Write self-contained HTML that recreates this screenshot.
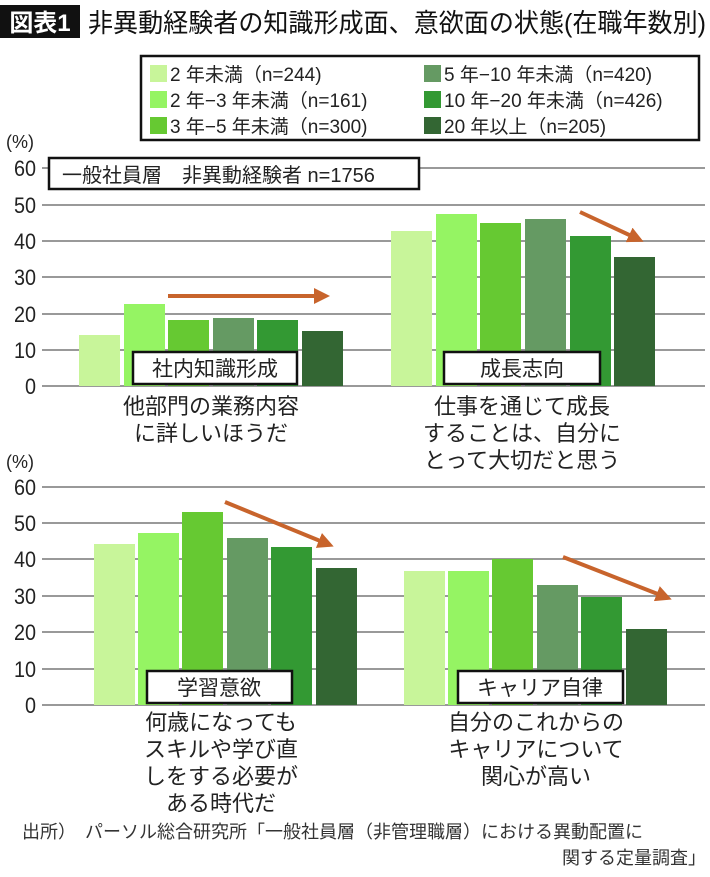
<!DOCTYPE html>
<html><head><meta charset="utf-8"><style>
body{margin:0;background:#fff;}
svg text{font-family:"Liberation Sans","Noto Sans CJK JP",sans-serif;}
</style></head><body>
<svg width="710" height="872" viewBox="0 0 710 872" xmlns="http://www.w3.org/2000/svg">
<defs><marker id="ah" markerWidth="4" markerHeight="4" refX="3" refY="2" orient="auto" markerUnits="strokeWidth"><path d="M0,0 L4,2 L0,4 z" fill="#c8642c"/></marker></defs>
<rect x="0" y="5" width="80" height="33" fill="#111"/>
<text x="40" y="31" font-size="24" fill="#fff" text-anchor="middle" font-weight="bold">図表1</text>
<text x="88" y="32" font-size="26" fill="#111" textLength="618" lengthAdjust="spacingAndGlyphs">非異動経験者の知識形成面、意欲面の状態(在職年数別)</text>
<rect x="141" y="56" width="558" height="84" fill="#fff" stroke="#111" stroke-width="2.5"/>
<g font-size="19" fill="#222">
<rect x="150" y="65" width="17" height="17" fill="#c8f59a"/><text x="170" y="81">2 年未満（n=244)</text>
<rect x="150" y="91" width="17" height="17" fill="#95f463"/><text x="170" y="107">2 年−3 年未満（n=161)</text>
<rect x="150" y="117" width="17" height="17" fill="#66c932"/><text x="170" y="133">3 年−5 年未満（n=300)</text>
<rect x="424" y="65" width="17" height="17" fill="#659a63"/><text x="444" y="81">5 年−10 年未満（n=420)</text>
<rect x="424" y="91" width="17" height="17" fill="#339933"/><text x="444" y="107">10 年−20 年未満（n=426)</text>
<rect x="424" y="117" width="17" height="17" fill="#336633"/><text x="444" y="133">20 年以上（n=205)</text>
</g>
<g stroke="#999" stroke-width="2">
<line x1="42" y1="168" x2="705" y2="168"/><line x1="42" y1="205" x2="705" y2="205"/><line x1="42" y1="241" x2="705" y2="241"/><line x1="42" y1="277" x2="705" y2="277"/><line x1="42" y1="314" x2="705" y2="314"/><line x1="42" y1="350" x2="705" y2="350"/><line x1="42" y1="386" x2="705" y2="386"/>
<line x1="42" y1="487" x2="705" y2="487"/><line x1="42" y1="523" x2="705" y2="523"/><line x1="42" y1="559" x2="705" y2="559"/><line x1="42" y1="596" x2="705" y2="596"/><line x1="42" y1="632" x2="705" y2="632"/><line x1="42" y1="669" x2="705" y2="669"/><line x1="42" y1="705" x2="705" y2="705"/>
</g>
<g font-size="22" fill="#222" text-anchor="end" transform="scale(0.9,1)">
<text x="40" y="176">60</text><text x="40" y="213">50</text><text x="40" y="249">40</text><text x="40" y="285">30</text><text x="40" y="322">20</text><text x="40" y="358">10</text><text x="40" y="394">0</text>
<text x="40" y="495">60</text><text x="40" y="531">50</text><text x="40" y="567">40</text><text x="40" y="604">30</text><text x="40" y="640">20</text><text x="40" y="677">10</text><text x="40" y="713">0</text>
</g>
<text x="6" y="148" font-size="18" fill="#222">(%)</text>
<text x="6" y="468" font-size="18" fill="#222">(%)</text>
<g>
<rect x="79" y="335" width="41" height="51" fill="#c8f59a"/>
<rect x="124" y="304" width="41" height="82" fill="#95f463"/>
<rect x="168" y="320" width="41" height="66" fill="#66c932"/>
<rect x="213" y="318" width="41" height="68" fill="#659a63"/>
<rect x="257" y="320" width="41" height="66" fill="#339933"/>
<rect x="302" y="331" width="41" height="55" fill="#336633"/>
<rect x="391" y="231" width="41" height="155" fill="#c8f59a"/>
<rect x="436" y="214" width="41" height="172" fill="#95f463"/>
<rect x="480" y="223" width="41" height="163" fill="#66c932"/>
<rect x="525" y="219" width="41" height="167" fill="#659a63"/>
<rect x="570" y="236" width="41" height="150" fill="#339933"/>
<rect x="614" y="257" width="41" height="129" fill="#336633"/>
</g>
<g>
<rect x="94" y="544" width="41" height="161" fill="#c8f59a"/>
<rect x="138" y="533" width="41" height="172" fill="#95f463"/>
<rect x="182" y="512" width="41" height="193" fill="#66c932"/>
<rect x="227" y="538" width="41" height="167" fill="#659a63"/>
<rect x="271" y="547" width="41" height="158" fill="#339933"/>
<rect x="316" y="568" width="41" height="137" fill="#336633"/>
<rect x="404" y="571" width="41" height="134" fill="#c8f59a"/>
<rect x="448" y="571" width="41" height="134" fill="#95f463"/>
<rect x="492" y="559" width="41" height="146" fill="#66c932"/>
<rect x="537" y="585" width="41" height="120" fill="#659a63"/>
<rect x="581" y="597" width="41" height="108" fill="#339933"/>
<rect x="626" y="629" width="41" height="76" fill="#336633"/>
</g>
<rect x="49" y="158" width="370" height="31" fill="#fff" stroke="#111" stroke-width="2.5"/>
<text x="62" y="182" font-size="20" fill="#222">一般社員層　非異動経験者 n=1756</text>
<g stroke="#111" stroke-width="2.5" fill="#fff">
<rect x="133" y="352" width="164" height="32"/><rect x="444" y="352" width="156" height="32"/>
<rect x="147" y="671" width="145" height="32"/><rect x="458" y="671" width="165" height="32"/>
</g>
<g font-size="21" fill="#222" text-anchor="middle">
<text x="215" y="376">社内知識形成</text><text x="522" y="376">成長志向</text>
<text x="219" y="695">学習意欲</text><text x="540" y="695">キャリア自律</text>
</g>
<g stroke="#c8642c" stroke-width="4" fill="none" marker-end="url(#ah)">
<line x1="168" y1="296" x2="326" y2="296"/>
<line x1="580" y1="212" x2="640" y2="240"/>
<line x1="225" y1="502" x2="330" y2="545"/>
<line x1="563" y1="557" x2="668" y2="598"/>
</g>
<g font-size="22" fill="#222" text-anchor="middle">
<text x="211" y="414">他部門の業務内容</text><text x="211" y="441">に詳しいほうだ</text>
<text x="522" y="414">仕事を通じて成長</text><text x="522" y="441">することは、自分に</text><text x="522" y="468">とって大切だと思う</text>
<text x="221" y="730">何歳になっても</text><text x="221" y="757">スキルや学び直</text><text x="221" y="784">しをする必要が</text><text x="221" y="811">ある時代だ</text>
<text x="536" y="730">自分のこれからの</text><text x="536" y="757">キャリアについて</text><text x="536" y="784">関心が高い</text>
</g>
<text x="22" y="838" font-size="18" fill="#333">出所）　パーソル総合研究所「一般社員層（非管理職層）における異動配置に</text>
<text x="706" y="864" font-size="18" fill="#333" text-anchor="end">関する定量調査」</text>
</svg>
</body></html>
